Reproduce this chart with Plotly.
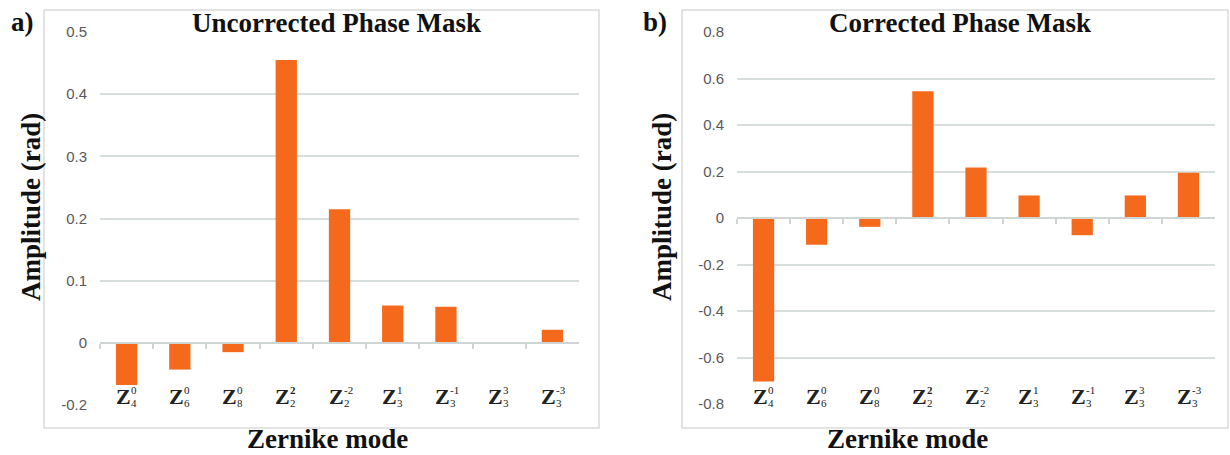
import plotly.graph_objects as go

# ---- data ----
sub_n = [4, 6, 8, 2, 2, 3, 3, 3, 3]
sup_m = ["0", "0", "0", "2", "-2", "1", "-1", "3", "-3"]
categories = [f"Z{n}^{m}" for n, m in zip(sub_n, sup_m)]

uncorrected = [-0.068, -0.043, -0.015, 0.455, 0.215, 0.060, 0.058, 0.001, 0.021]
corrected = [-0.703, -0.115, -0.038, 0.545, 0.217, 0.097, -0.074, 0.097, 0.195]

left_tickvals = [-0.1, 0, 0.1, 0.2, 0.3, 0.4, 0.5]
left_ticktext = ["-0.2", "0", "0.1", "0.2", "0.3", "0.4", "0.5"]
right_tickvals = [-0.8, -0.6, -0.4, -0.2, 0, 0.2, 0.4, 0.6, 0.8]
right_ticktext = ["-0.8", "-0.6", "-0.4", "-0.2", "0", "0.2", "0.4", "0.6", "0.8"]

titles = ["Uncorrected Phase Mask", "Corrected Phase Mask"]
panel_labels = ["a)", "b)"]
y_title = "Amplitude (rad)"
x_title = "Zernike mode"

# ---- layout constants ----
W, H = 1230, 455
BAR = "#F5691C"
GRID = "#d8dddd"
TICKC = "#595959"
SERIF = "Liberation Serif"
SANS = "Liberation Sans"

def px(x):
    return x / W

def py(y):
    return 1 - y / H

left_x = [px(100), px(579)]
left_y = [py(405), py(32)]
right_x = [px(737), px(1215)]
right_y = [py(404), py(32)]
left_range = [left_tickvals[0], left_tickvals[-1]]
right_range = [right_tickvals[0], right_tickvals[-1]]

def zero_pos(dom, rng):
    return dom[0] + (0 - rng[0]) / (rng[1] - rng[0]) * (dom[1] - dom[0])

fig = go.Figure()
fig.add_trace(go.Bar(x=categories, y=uncorrected, marker_color=BAR,
                     marker_line_width=0, xaxis="x", yaxis="y", showlegend=False))
fig.add_trace(go.Bar(x=categories, y=corrected, marker_color=BAR,
                     marker_line_width=0, xaxis="x2", yaxis="y2", showlegend=False))

xcommon = dict(type="category", range=[-0.5, len(categories) - 0.5],
               showgrid=False, zeroline=False, showline=True, linecolor="#cfd4d4",
               linewidth=1.5, ticks="outside", tickson="boundaries", ticklen=5,
               tickcolor="#cfd4d4", tickwidth=1.5, showticklabels=False,
               anchor="free", fixedrange=True, automargin=False)
ycommon = dict(showgrid=True, gridcolor=GRID, gridwidth=1.5, zeroline=False,
               showline=False, ticks="", tickfont=dict(family=SANS, size=15, color=TICKC),
               ticklabelstandoff=12, fixedrange=True, automargin=False)

fig.update_layout(
    width=W, height=H, autosize=False, margin=dict(l=0, r=0, t=0, b=0, pad=0),
    paper_bgcolor="white", plot_bgcolor="white", bargap=0.6,
    xaxis=dict(xcommon, domain=left_x, position=zero_pos(left_y, left_range)),
    yaxis=dict(ycommon, domain=left_y, range=left_range, tickvals=left_tickvals,
               ticktext=left_ticktext, anchor="x"),
    xaxis2=dict(xcommon, domain=right_x, position=zero_pos(right_y, right_range)),
    yaxis2=dict(ycommon, domain=right_y, range=right_range, tickvals=right_tickvals,
                ticktext=right_ticktext, anchor="x2"),
)

# chart frames
for x0, x1 in [(44, 599), (682, 1228)]:
    fig.add_shape(type="rect", xref="paper", yref="paper",
                  x0=px(x0), x1=px(x1), y0=py(428), y1=py(10),
                  line=dict(color="#d9dcdc", width=1.5), layer="below")

ann = []
title_font = dict(family=SERIF, size=27, color="#111111")
# titles
for t, cx in zip(titles, [336, 960]):
    ann.append(dict(text=f"<b>{t}</b>", x=px(cx), y=py(23), xref="paper", yref="paper",
                    xanchor="center", yanchor="middle", showarrow=False, font=title_font))
# panel labels
for t, cx in zip(panel_labels, [22, 655]):
    ann.append(dict(text=f"<b>{t}</b>", x=px(cx), y=py(22), xref="paper", yref="paper",
                    xanchor="center", yanchor="middle", showarrow=False, font=title_font))
# y titles
for cx in [31, 662]:
    ann.append(dict(text=f"<b>{y_title}</b>", x=px(cx), y=py(207), xref="paper", yref="paper",
                    xanchor="center", yanchor="middle", textangle=-90, showarrow=False,
                    font=title_font))
# x titles
for cx in [327, 907]:
    ann.append(dict(text=f"<b>{x_title}</b>", x=px(cx), y=py(439), xref="paper", yref="paper",
                    xanchor="center", yanchor="middle", showarrow=False, font=title_font))

# category labels (Z with stacked super/subscripts)
zfont = dict(family=SERIF, size=22, color="#222222")
sfont = dict(family=SERIF, size=11, color="#222222")
for xa in ["x", "x2"]:
    for cat, n, m in zip(categories, sub_n, sup_m):
        ann.append(dict(text="<b>Z</b>", x=cat, y=py(396), xref=xa, yref="paper",
                        xanchor="right", yanchor="middle", xshift=5, showarrow=False,
                        font=zfont, borderpad=0))
        mtxt = f"<b>{m}</b>" if m == "2" else m
        ann.append(dict(text=mtxt, x=cat, y=py(390), xref=xa, yref="paper",
                        xanchor="left", yanchor="middle", xshift=3, showarrow=False,
                        font=sfont, borderpad=0))
        ann.append(dict(text=str(n), x=cat, y=py(403), xref=xa, yref="paper",
                        xanchor="left", yanchor="middle", xshift=3, showarrow=False,
                        font=sfont, borderpad=0))

fig.update_layout(annotations=ann)
fig.write_html("out.html")
